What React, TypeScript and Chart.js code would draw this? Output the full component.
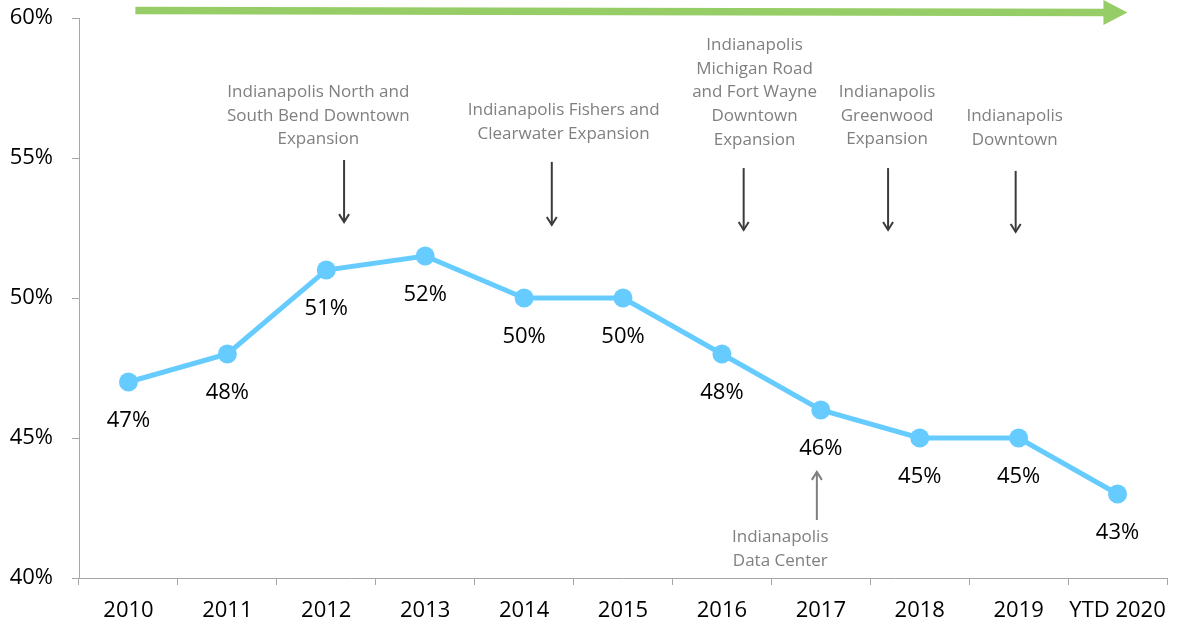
import React, { useEffect, useRef } from "react";
import { Chart, registerables } from "chart.js";

Chart.register(...registerables);

const categories = ["2010", "2011", "2012", "2013", "2014", "2015", "2016", "2017", "2018", "2019", "YTD 2020"];
const values = [47, 48, 51, 51.5, 50, 50, 48, 46, 45, 45, 43];
const valueLabels = ["47%", "48%", "51%", "52%", "50%", "50%", "48%", "46%", "45%", "45%", "43%"];
const yTicks = [40, 45, 50, 55, 60];

// annotation texts (positions expressed in axis units: category index / value)
const annTexts = [
  ["Indianapolis North and", "South Bend Downtown", "Expansion"],
  ["Indianapolis Fishers and", "Clearwater Expansion"],
  ["Indianapolis", "Michigan Road", "and Fort Wayne", "Downtown", "Expansion"],
  ["Indianapolis", "Greenwood", "Expansion"],
  ["Indianapolis", "Downtown"],
  ["Indianapolis", "Data Center"],
];
const annTextX = [1.92, 4.4, 6.33, 7.67, 8.96, 6.59];
const annTextY = [57.36, 56.71, 59.04, 57.36, 56.5, 41.46];
const annArrowX = [2.18, 4.28, 6.22, 7.68, 8.97, 6.96];
const annArrowFrom = [54.93, 54.86, 54.64, 54.64, 54.54, 42.07];
const annArrowTo = [52.71, 52.61, 52.43, 52.43, 52.36, 43.79];
const trendFrom = 0.07;
const trendTo = 10.1;

const FONT = "'Open Sans', sans-serif";

const annotationPlugin = {
  id: "annotations",
  afterDatasetsDraw(chart: any) {
    const ctx = chart.ctx;
    const xs = chart.scales.x;
    const ys = chart.scales.y;
    const meta = chart.getDatasetMeta(0);
    ctx.save();
    // value labels
    ctx.font = `22px ${FONT}`;
    ctx.fillStyle = "#000";
    ctx.textAlign = "center";
    ctx.textBaseline = "middle";
    meta.data.forEach((pt: any, i: number) => {
      ctx.fillText(valueLabels[i], pt.x, pt.y + 39);
    });

    // green trend arrow
    const gx0 = xs.getPixelForValue(trendFrom);
    const gx1 = xs.getPixelForValue(trendTo);
    const gy0 = 10.5;
    const gy1 = 12.5;
    const headLen = 24;
    ctx.fillStyle = "#97cd66";
    ctx.beginPath();
    ctx.moveTo(gx0, gy0 - 3.8);
    ctx.lineTo(gx1 - headLen, gy1 - 3.8);
    ctx.lineTo(gx1 - headLen, gy1 - 12.5);
    ctx.lineTo(gx1, gy1);
    ctx.lineTo(gx1 - headLen, gy1 + 12.5);
    ctx.lineTo(gx1 - headLen, gy1 + 3.8);
    ctx.lineTo(gx0, gy0 + 3.8);
    ctx.closePath();
    ctx.fill();

    // annotation texts
    ctx.font = `17px ${FONT}`;
    ctx.fillStyle = "#808080";
    annTexts.forEach((lines, i) => {
      const cx = xs.getPixelForValue(annTextX[i]);
      const cy = ys.getPixelForValue(annTextY[i]);
      lines.forEach((l, j) => ctx.fillText(l, cx, cy + j * 23.8));
    });

    // annotation arrows
    annArrowX.forEach((xv, i) => {
      const x = xs.getPixelForValue(xv);
      const y0 = ys.getPixelForValue(annArrowFrom[i]);
      const y1 = ys.getPixelForValue(annArrowTo[i]);
      const up = y1 < y0;
      ctx.strokeStyle = up ? "#7f7f7f" : "#3b3b3b";
      ctx.lineWidth = 2;
      ctx.beginPath();
      ctx.moveTo(x, y0);
      ctx.lineTo(x, y1);
      ctx.stroke();
      const d = up ? 1 : -1;
      ctx.beginPath();
      ctx.moveTo(x - 5, y1 + d * 8);
      ctx.lineTo(x, y1);
      ctx.lineTo(x + 5, y1 + d * 8);
      ctx.stroke();
    });
    ctx.restore();
  },
};

export default function App() {
  const ref = useRef<HTMLCanvasElement>(null);
  useEffect(() => {
    document.body.style.margin = "0";
    const chart = new Chart(ref.current!, {
      type: "line",
      data: {
        labels: categories,
        datasets: [
          {
            data: values,
            borderColor: "#66ccff",
            backgroundColor: "#66ccff",
            borderWidth: 5,
            pointRadius: 9.5,
            pointBackgroundColor: "#66ccff",
            pointBorderWidth: 0,
            tension: 0,
          },
        ],
      },
      options: {
        animation: false,
        responsive: false,
        maintainAspectRatio: false,
        layout: { padding: { top: 18, right: 10, left: 0, bottom: 0 } },
        plugins: { legend: { display: false }, tooltip: { enabled: false } },
        scales: {
          x: {
            type: "category",
            offset: true,
            grid: {
              offset: true,
              drawOnChartArea: false,
              drawTicks: true,
              tickLength: 7,
              color: "#a6a6a6",
              lineWidth: 1,
            },
            border: { color: "#a6a6a6", width: 1 },
            ticks: {
              color: "#000",
              font: { family: FONT, size: 22 },
              padding: 13,
              maxRotation: 0,
              autoSkip: false,
            },
            afterFit(scale: any) {
              scale.height = 46;
              scale.paddingLeft = 0;
              scale.paddingRight = 0;
            },
          },
          y: {
            min: 40,
            max: 60,
            afterBuildTicks(scale: any) {
              scale.ticks = yTicks.map((v) => ({ value: v }));
            },
            grid: {
              drawOnChartArea: false,
              drawTicks: true,
              tickLength: 7,
              color: "#a6a6a6",
            },
            border: { color: "#a6a6a6", width: 1 },
            ticks: {
              color: "#000",
              font: { family: FONT, size: 22 },
              padding: 19,
              callback: (v: any) => `${v}%`,
            },
            afterFit(scale: any) {
              scale.width = 79;
              scale.paddingTop = 0;
              scale.paddingBottom = 0;
            },
          },
        },
      },
      plugins: [annotationPlugin],
    });
    return () => chart.destroy();
  }, []);
  return (
    <div style={{ width: 1177, height: 624 }}>
      <canvas ref={ref} width={1177} height={624} style={{ display: "block" }} />
    </div>
  );
}
